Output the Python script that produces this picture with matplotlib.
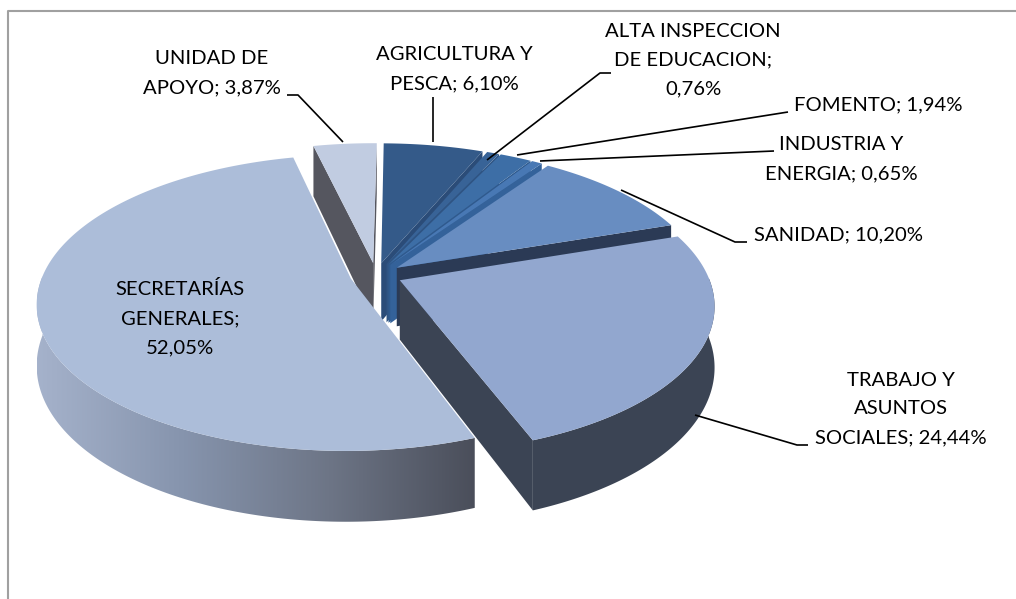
import numpy as np
import matplotlib
matplotlib.use('Agg')
import matplotlib.pyplot as plt
from matplotlib.colors import LinearSegmentedColormap
from matplotlib.patches import Polygon

plt.rcParams['font.family'] = ['Lato', 'DejaVu Sans']

# data
names = ['AGRICULTURA Y\nPESCA', 'ALTA INSPECCION\nDE EDUCACION', 'FOMENTO', 'INDUSTRIA Y\nENERGIA',
         'SANIDAD', 'TRABAJO Y\nASUNTOS\nSOCIALES', 'SECRETARÍAS\nGENERALES', 'UNIDAD DE\nAPOYO']
values = [6.10, 0.76, 1.94, 0.65, 10.20, 24.44, 52.05, 3.87]
value_labels = ['6,10%', '0,76%', '1,94%', '0,65%', '10,20%', '24,44%', '52,05%', '3,87%']
# value goes on its own line for these two
own_line = [1, 6]

# colours
top_colors = ['#345a89', '#386397', '#3d6ea6', '#4878b4', '#688dc1', '#92a7cf', '#acbdd9', '#c1cce1']
face_colors = ['#2b4c78', '#2f5483', '#2f5a8e', '#34629a', '#2b3a55', '#3b4454', '#4b4f5c', '#55565f']
secretarias_wall = ['#a5b2cb', '#8694ad', '#6d7586', '#4a4e5a']

# projection of the disc
cx, cy = 376, 275
a, b, k = 308, 143, 0.163
depth = 59
explode = 0.085
first_angle = np.radians(0.7)


def project(X, Y, z=0):
    s = 1 / (1 + k * Y)
    return cx + a * X * s, cy - b * Y * s + z * depth * s


fig = plt.figure(figsize=(10.16, 5.99), dpi=100)
ax = fig.add_axes([0, 0, 1, 1])
ax.axis('off')

ax.plot([8, 8, 1016], [599, 11, 11], color='#a0a0a0', lw=1.5)

edges = np.cumsum([0] + values) / sum(values) * 2 * np.pi + first_angle
draw_order = [7, 0, 1, 2, 3, 4, 5, 6]
wall_cmap = LinearSegmentedColormap.from_list('wall', secretarias_wall)

for i in draw_order:
    t0, t1 = edges[i], edges[i + 1]
    mid = (t0 + t1) / 2
    ox, oy = explode * np.sin(mid), explode * np.cos(mid)
    t = np.linspace(t0, t1, 300)
    rimX, rimY = ox + np.sin(t), oy + np.cos(t)
    # cut faces
    if np.sin(t0) < 0:
        p = [project(ox, oy), project(rimX[0], rimY[0]), project(rimX[0], rimY[0], 1), project(ox, oy, 1)]
        ax.add_patch(Polygon(p, fc=face_colors[i], ec='none'))
    if np.sin(t1) > 0:
        p = [project(ox, oy), project(rimX[-1], rimY[-1]), project(rimX[-1], rimY[-1], 1), project(ox, oy, 1)]
        ax.add_patch(Polygon(p, fc=face_colors[i], ec='none'))
    # outer wall, front part only
    front = np.cos(t) < 0.02
    if front.any():
        x0, y0 = project(rimX[front], rimY[front])
        x1, y1 = project(rimX[front], rimY[front], 1)
        wall = np.c_[np.r_[x0, x1[::-1]], np.r_[y0, y1[::-1]]]
        if i == 6:
            patch = Polygon(wall, fc='none', ec='none')
            ax.add_patch(patch)
            grad = np.linspace(0, 1, 256).reshape(1, -1)
            im = ax.imshow(grad, cmap=wall_cmap, aspect='auto',
                           extent=[wall[:, 0].min(), wall[:, 0].max(), wall[:, 1].max(), wall[:, 1].min()])
            im.set_clip_path(patch)
        else:
            ax.add_patch(Polygon(wall, fc=face_colors[i], ec='none'))
    # top
    px, py = project(np.r_[ox, rimX], np.r_[oy, rimY])
    ax.add_patch(Polygon(np.c_[px, py], fc=top_colors[i], ec='none'))

ax.set_xlim(0, 1016)
ax.set_ylim(599, 0)

# leader lines
leaders = [([433, 433], [97, 142]),
           ([611, 600, 487], [73, 73, 160]),
           ([788, 517], [112, 155]),
           ([774, 540], [151, 161]),
           ([747, 735, 621], [242, 242, 190]),
           ([808, 797, 695], [445, 445, 415]),
           ([287, 298, 343], [95, 95, 142])]
for lx, ly in leaders:
    ax.plot(lx, ly, color='black', lw=1.2, solid_capstyle='butt')

# labels
label_pos = [(454, 69), (693, 60), (878, 105), (841, 159), (838, 235), (901, 409), (180, 318), (212, 73)]
for i, (lx, ly) in enumerate(label_pos):
    sep = ';\n' if i in own_line else '; '
    ax.text(lx, ly, names[i] + sep + value_labels[i], ha='center', va='center',
            fontsize=14.6, color='black', linespacing=1.85)

fig.savefig('out.png', dpi=100)
